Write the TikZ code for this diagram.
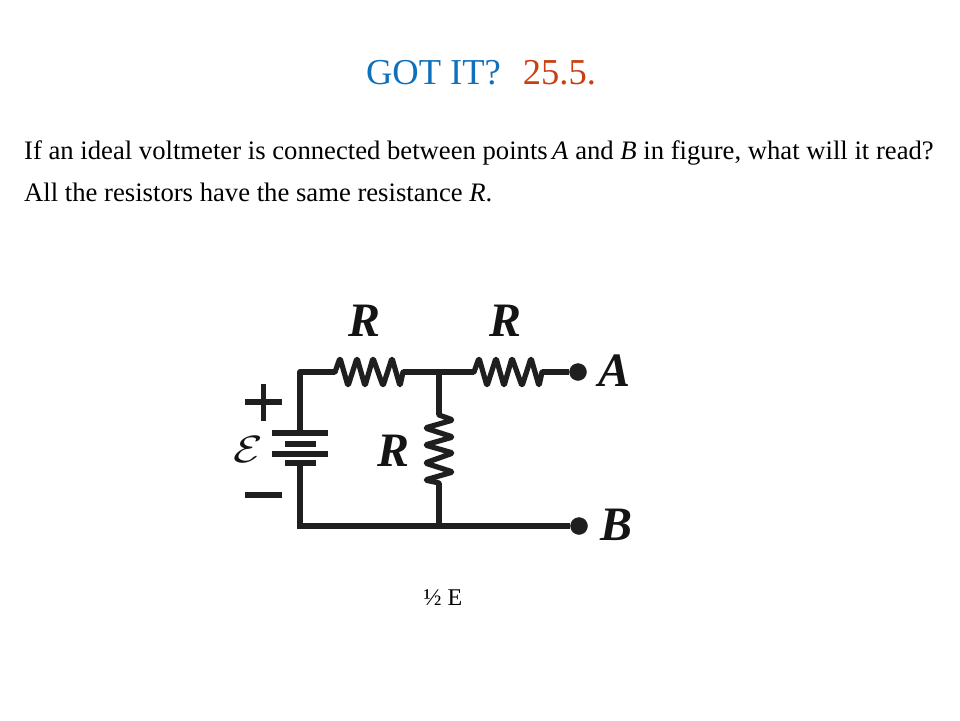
\documentclass[tikz,border=0pt]{standalone}
\usepackage{fontspec}
\setmainfont{Liberation Serif}
\begin{document}
\begin{tikzpicture}[x=1pt,y=-1pt]
 \tikzset{wire/.style={line width=5.2pt,black!88},
  plate/.style={line width=5.2pt,black!88},
  label/.style={font=\fontsize{48}{48}\selectfont\bfseries\itshape,inner sep=0pt,black!92},
  body/.style={font=\fontsize{26.67}{26.67}\selectfont,anchor=base west,inner sep=0pt},
  terminal/.style={draw=black!88,circle,fill=black!88,inner sep=0pt,minimum size=17pt},
  resistor/.pic={\draw[wire,line join=round,line cap=round,rounded corners=1.5pt] (0,0) -- (5,-14) -- (13,14) -- (22,-14) -- (30,14) -- (38,-14) -- (48,14) -- (57,-14) -- (65,14) -- (68,0);}}
  \definecolor{titleblue}{HTML}{0F70BC}
  \definecolor{titlered}{HTML}{C8400F}
  \useasboundingbox (0,0) rectangle (960,720);
  % text
  \node[font=\fontsize{36.5}{36.5}\selectfont,anchor=base,inner sep=0pt] (title) at (481,84) {\textcolor{titleblue}{GOT IT?}\hspace{22pt}\textcolor{titlered}{25.5.}};
  \node[body] (line1) at (24,159) {If an ideal voltmeter is connected between points\,\textit{A} and \textit{B} in figure, what will it read?};
  \node[body] (line2) at (24,201) {All the resistors have the same resistance \textit{R}.};
  \node[font=\fontsize{24}{24}\selectfont,inner sep=0pt,anchor=base] (answer) at (443,605) {½ E};
  % circuit points
  \coordinate (cornerT) at (300,372);
  \coordinate (cornerB) at (300,526);
  \coordinate (battT) at (300,433);
  \coordinate (battB) at (300,463);
  \coordinate (r1in) at (335,372);
  \coordinate (r1out) at (403,372);
  \coordinate (junT) at (439,372);
  \coordinate (junB) at (439,526);
  \coordinate (r2in) at (474,372);
  \coordinate (r2out) at (542,372);
  \coordinate (r3in) at (439,415);
  \coordinate (r3out) at (439,483);
  \node[terminal] (dotA) at (578,372) {};
  \node[terminal] (dotB) at (579,526) {};
  % wires
  \draw[wire,line join=round] (battT) -- (cornerT) -- (r1in);
  \draw[wire] (r1out) -- (junT);
  \draw[wire] (junT) -- (r2in);
  \draw[wire] (r2out) -- (dotA);
  \draw[wire] (junT) -- (r3in);
  \draw[wire] (r3out) -- (junB);
  \draw[wire] (battB) -- (cornerB) -- (dotB);
  % resistors
  \pic at (r1in) {resistor};
  \pic at (r2in) {resistor};
  \pic[rotate=-90] at (r3in) {resistor};
  % battery
  \draw[plate] (272,433) -- (328,433);
  \draw[plate] (285,444) -- (316,444);
  \draw[plate] (272,454) -- (328,454);
  \draw[plate] (285,463) -- (316,463);
  % plus and minus
  \draw[plate] (245,402) -- (282,402);
  \draw[plate] (263.5,384) -- (263.5,421);
  \draw[plate] (245,495) -- (282,495);
  % labels
  \node[label] (labR1) at (365,321) {R};
  \node[label] (labR2) at (505,321) {R};
  \node[label] (labR3) at (394,451) {R};
  \node[label] (labA) at (614,371) {A};
  \node[label] (labB) at (616,525) {B};
  \node[inner sep=0pt,xscale=4.8,yscale=3.8,transform shape,black!92] (labE) at (248,450) {$\mathcal{E}$};
\end{tikzpicture}
\end{document}
